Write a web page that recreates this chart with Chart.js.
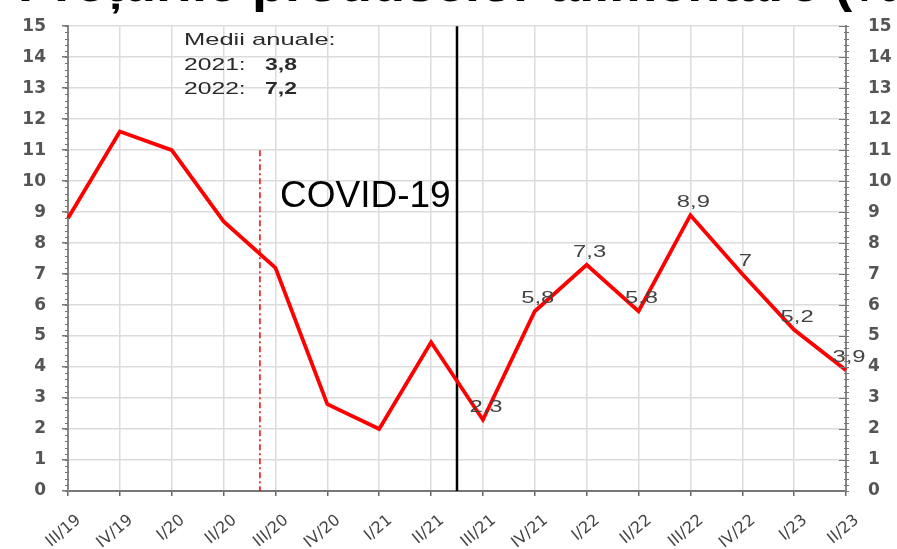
<!DOCTYPE html>
<html>
<head>
<meta charset="utf-8">
<script src="https://cdn.jsdelivr.net/npm/chart.js@4.4.1/dist/chart.umd.min.js"></script>
<style>
  body { margin: 0; background: #fff; }
  #wrap { width: 897px; height: 549px; position: relative; overflow: hidden; }
</style>
</head>
<body>
<div id="wrap"><canvas id="lineChart"></canvas></div>
<script>
let trimestre = ["III/19", "IV/19", "I/20", "II/20", "III/20", "IV/20", "I/21", "II/21",
  "III/21", "IV/21", "I/22", "II/22", "III/22", "IV/22", "I/23", "II/23"];
let preturi = [8.8, 11.6, 11.0, 8.7, 7.2, 2.8, 2.0, 4.8, 2.3, 5.8, 7.3, 5.8, 8.9, 7.0, 5.2, 3.9];
let etichete = [null, null, null, null, null, null, null, null,
  "2,3", "5,8", "7,3", "5,8", "8,9", "7", "5,2", "3,9"];
let aniMedii = ["2021:", "2022:"];
let valoriMedii = ["3,8", "7,2"];
let titlu = "Prețurile produselor alimentare (%)";
let pozitieCovid = 3.7;   // linia rosie (index pe axa X)
let pozitieSeparator = 7.5; // linia neagra

const FONT = "'Liberation Sans', Arial, sans-serif";
const FONT_LAT = "'DejaVu Sans', Verdana, sans-serif";

// text intins pe orizontala (ca in imaginea originala)
function textLat(c, t, x, y, sx) {
  c.save();
  c.translate(x, y);
  c.scale(sx, 1);
  c.fillText(t, 0, 0);
  c.restore();
}

let extra = {
  id: "extra",
  beforeDraw(chart) {
    let c = chart.ctx;
    c.save();
    c.fillStyle = "#000";
    c.font = "bold 54px " + FONT;
    c.textBaseline = "alphabetic";
    c.fillText(titlu, 18, 1);
    c.restore();
  },
  beforeDatasetsDraw(chart) {
    let c = chart.ctx;
    let x = chart.scales.x, y = chart.scales.y;
    c.save();
    // linia COVID
    c.strokeStyle = "#ff0000";
    c.lineWidth = 1.5;
    c.setLineDash([6, 3, 2, 3]);
    let xr = x.getPixelForValue(pozitieCovid);
    c.beginPath();
    c.moveTo(xr, y.getPixelForValue(11));
    c.lineTo(xr, y.getPixelForValue(0));
    c.stroke();
    // separator
    c.setLineDash([]);
    c.strokeStyle = "#000";
    c.lineWidth = 2.5;
    let xs = x.getPixelForValue(pozitieSeparator);
    c.beginPath();
    c.moveTo(xs, y.getPixelForValue(15));
    c.lineTo(xs, y.getPixelForValue(0));
    c.stroke();
    c.restore();
  },
  afterDatasetsDraw(chart) {
    let c = chart.ctx;
    let x = chart.scales.x, y = chart.scales.y;
    c.save();
    // etichete valori
    c.fillStyle = "#444";
    c.font = "17px " + FONT;
    c.textAlign = "left";
    c.textBaseline = "bottom";
    etichete.forEach((t, i) => {
      if (t === null) return;
      let w = c.measureText(t).width * 1.4;
      textLat(c, t, x.getPixelForValue(i) + 3 - w / 2, y.getPixelForValue(preturi[i]) - 4, 1.4);
    });
    // COVID-19
    c.fillStyle = "#000";
    c.font = "37px " + FONT;
    c.textBaseline = "alphabetic";
    c.fillText("COVID-19", 280, 207);
    // medii anuale
    c.fillStyle = "#2a2a2a";
    c.font = "17px " + FONT;
    textLat(c, "Medii anuale:", 184, 45, 1.5);
    aniMedii.forEach((a, i) => {
      c.font = "17px " + FONT;
      textLat(c, a, 184, 70 + i * 24, 1.45);
      c.font = "bold 17px " + FONT;
      textLat(c, valoriMedii[i], 265, 70 + i * 24, 1.35);
    });
    c.restore();
  },
  afterDraw(chart) {
    let c = chart.ctx;
    let y = chart.scales.y;
    let st = chart.chartArea.left, dr = chart.chartArea.right;
    c.save();
    c.strokeStyle = "#777";
    c.lineWidth = 1;
    for (let v = 0; v <= 15.001; v += 0.2) {
      let py = Math.round(y.getPixelForValue(v)) + 0.5;
      let major = Math.abs(v - Math.round(v)) < 0.01;
      c.beginPath();
      c.moveTo(st - 3, py);
      c.lineTo(st + 1, py);
      c.moveTo(dr - 2, py);
      c.lineTo(dr + 3, py);
      if (major) {
        c.moveTo(dr - 7, py);
        c.lineTo(dr, py);
      }
      c.stroke();
    }
    c.restore();
  }
};

let ctx = document.getElementById("lineChart").getContext("2d");
let lineChart = new Chart(ctx, {
  type: "line",
  data: {
    labels: trimestre,
    datasets: [
      {
        data: preturi,
        borderColor: "#ff0000",
        borderWidth: 3.8,
        pointRadius: 0,
        tension: 0,
        yAxisID: "y",
      },
    ],
  },
  options: {
    responsive: true,
    maintainAspectRatio: false,
    animation: false,
    layout: { padding: { top: 19, left: 0, right: 0, bottom: 0 } },
    plugins: {
      legend: { display: false },
      tooltip: { enabled: false },
    },
    scales: {
      x: {
        offset: false,
        afterFit(s) { s.height = 58; },
        grid: { color: "#dcdcdc", lineWidth: 1.5, tickColor: "#666", tickLength: 5 },
        border: { color: "#777", width: 2 },
        ticks: {
          autoSkip: false,
          minRotation: 40,
          maxRotation: 40,
          color: "#444",
          font: { family: FONT_LAT, size: 16 },
          padding: 15,
          labelOffset: 11,
        },
      },
      y: {
        position: "left",
        min: 0,
        max: 15,
        afterFit(s) { s.width = 68; },
        grid: { color: "#dcdcdc", lineWidth: 1.5, tickColor: "#777", tickLength: 6 },
        border: { color: "#888", width: 2 },
        ticks: {
          stepSize: 1,
          color: "#555",
          font: { family: FONT_LAT, size: 17, weight: "bold" },
          padding: 16,
        },
      },
      y2: {
        position: "right",
        min: 0,
        max: 15,
        afterFit(s) { s.width = 51; },
        grid: { display: false, drawOnChartArea: false },
        border: { color: "#888", width: 2 },
        ticks: {
          stepSize: 1,
          color: "#555",
          font: { family: FONT_LAT, size: 17, weight: "bold" },
          padding: 14,
        },
      },
    },
  },
  plugins: [extra],
});
</script>
</body>
</html>
